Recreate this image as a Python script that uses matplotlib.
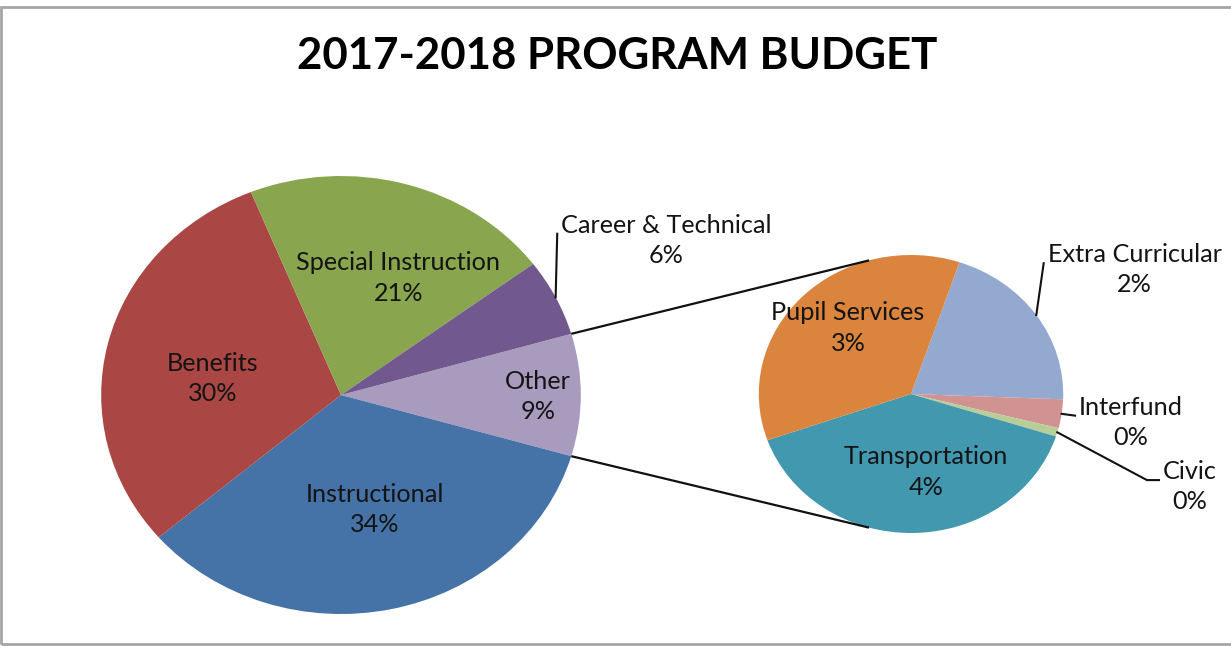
import numpy as np
import matplotlib
matplotlib.use('Agg')
import matplotlib.pyplot as plt
from matplotlib.patches import Rectangle

plt.rcParams['font.family'] = ['Lato', 'DejaVu Sans']

# data (percent of total budget)
main_labels = ['Instructional', 'Benefits', 'Special Instruction', 'Career & Technical']
main_values = [34.2, 30.1, 20.9, 5.7]
sub_labels = ['Extra Curricular', 'Interfund', 'Civic', 'Transportation', 'Pupil Services']
sub_values = [1.84, 0.30, 0.09, 3.57, 3.20]
other_label = 'Other'
title = '2017-2018 PROGRAM BUDGET'

main_colors = ['#4572A7', '#AA4643', '#89A54E', '#71588F']
other_color = '#A99BBD'
sub_colors = ['#93A9CF', '#D19392', '#B9CD96', '#4198AF', '#DB843D']

W, H = 1231, 646
S = 1.095  # horizontal stretch of the pies


def d(px, py):
    # pixel position (from top-left) -> data coords
    return px / S, H - py


fig = plt.figure(figsize=(W / 100, H / 100), dpi=100)
ax = fig.add_axes([0, 0, 1, 1])

total = sum(main_values) + sum(sub_values)
other = sum(sub_values)

# main pie: Other first, then clockwise
m_vals = [other] + main_values
m_cols = [other_color] + main_colors
m_labs = [other_label] + main_labels
mcx, mcy = d(341, 395)
mr = 219
m_start = 180 * other / sum(m_vals)
m_wedges, _ = ax.pie(m_vals, colors=m_cols, startangle=m_start, counterclock=False,
                     center=(mcx, mcy), radius=mr, wedgeprops=dict(linewidth=0),
                     frame=True)

scx, scy = d(911, 394)
sr = 139
s_wedges, _ = ax.pie(sub_values, colors=sub_colors, startangle=71.4, counterclock=False,
                     center=(scx, scy), radius=sr, wedgeprops=dict(linewidth=0),
                     frame=True)

ax.set_aspect('auto')
ax.set_xlim(0, W / S)
ax.set_ylim(0, H)
ax.axis('off')


def edge(cx, cy, r, ang):
    a = np.radians(ang)
    return cx + r * np.cos(a), cy + r * np.sin(a)


# connector lines between Other slice and the secondary pie
ow = m_wedges[0]
p1 = edge(mcx, mcy, mr, ow.theta2)
p2 = edge(mcx, mcy, mr, ow.theta1)
q1 = edge(scx, scy, sr, 106)
q2 = edge(scx, scy, sr, 254)
ax.plot([p1[0], q1[0]], [p1[1], q1[1]], color='#111111', lw=1.6, solid_capstyle='butt')
ax.plot([p2[0], q2[0]], [p2[1], q2[1]], color='#111111', lw=1.6, solid_capstyle='butt')

# label layout: (distance in radii, angle nudge, leader style)
m_layout = {
    'Other': (0.82, -0.6, None),
    'Instructional': (0.54, 3.0, None),
    'Benefits': (0.54, 5.5, None),
    'Special Instruction': (0.585, -8.5, None),
    'Career & Technical': (1.53, 1.0, 'straight'),
}
s_layout = {
    'Extra Curricular': (1.72, -3.3, 'straight'),
    'Interfund': (1.46, 0.2, 'straight'),
    'Civic': (1.95, -4.0, 'elbow'),
    'Transportation': (0.57, 9.0, None),
    'Pupil Services': (0.63, -4.4, None),
}

fig.canvas.draw()
renderer = fig.canvas.get_renderer()
inv = ax.transData.inverted()


def put_labels(wedges, labels, values, layout, cx, cy, r):
    for w, lab, v in zip(wedges, labels, values):
        dist, nudge, leader = layout[lab]
        mid = (w.theta1 + w.theta2) / 2
        tx, ty = edge(cx, cy, r * dist, mid + nudge)
        pct = round(v / total * 100)
        t = ax.text(tx, ty, f'{lab}\n{pct:.0f}%', ha='center', va='center',
                    fontsize=18.2, color='#141414', linespacing=1.38)
        if leader:
            bb = t.get_window_extent(renderer)
            ex, ey = inv.transform((bb.x0 - 4, bb.y1 - 20))
            sx, sy = edge(cx, cy, r, mid)
            if leader == 'elbow':
                xs = [sx, ex - 12 / S, ex]
                ys = [sy, ey, ey]
            else:
                xs = [sx, ex]
                ys = [sy, ey]
            ax.plot(xs, ys, color='#111111', lw=1.5)


put_labels(m_wedges, m_labs, m_vals, m_layout, mcx, mcy, mr)
put_labels(s_wedges, sub_labels, sub_values, s_layout, scx, scy, sr)

tx, ty = d(617, 56)
ax.text(tx, ty, title, ha='center', va='center', fontsize=31.5, fontweight='bold', color='#000000')

# chart area border
bx, by = d(1, 644)
ax.add_patch(Rectangle((bx, by), (W + 20) / S, 637, fill=False, edgecolor='#a6a6a6',
                       lw=2, clip_on=False))

fig.savefig('out.png', dpi=100, facecolor='white')
